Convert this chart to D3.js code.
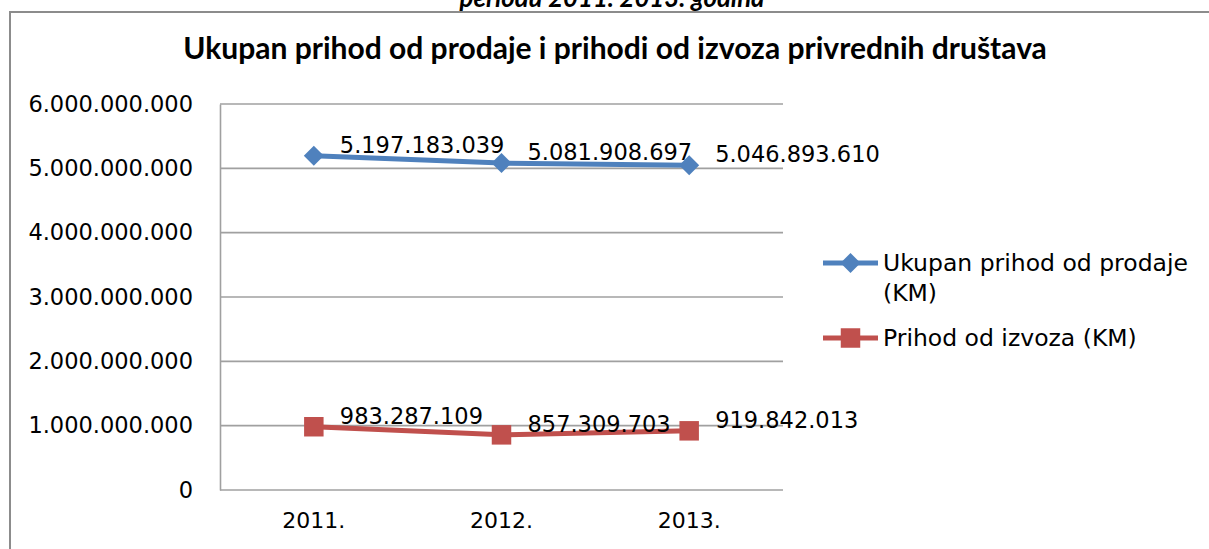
<!DOCTYPE html>
<html>
<head>
<meta charset="utf-8">
<script src="https://cdn.jsdelivr.net/npm/d3@7"></script>
<style>
html,body{margin:0;padding:0;background:#fff;}
svg{display:block;}
</style>
</head>
<body>
<svg id="chart" width="1209" height="549"></svg>
<script>
const categories = ["2011.", "2012.", "2013."];
const seriesNames = ["Ukupan prihod od prodaje (KM)", "Prihod od izvoza (KM)"];
const prodajaValues = [5197183039, 5081908697, 5046893610];
const izvozValues = [983287109, 857309703, 919842013];
const yTickValues = [0, 1e9, 2e9, 3e9, 4e9, 5e9, 6e9];
const chartTitle = "Ukupan prihod od prodaje i prihodi od izvoza privrednih društava";
const topCaption = "periodu 2011. 2013. godina";

const colors = ["#4F81BD", "#C0504D"];
const svg = d3.select("#chart");
const W = 1209, H = 549;
const plot = {left: 220, right: 783, top: 104, bottom: 490};
const font = "'DejaVu Sans', sans-serif";
const titleFont = "Lato, 'Open Sans', sans-serif";

const loc = d3.formatLocale({decimal: ",", thousands: ".", grouping: [3], currency: ["", ""]});
const fmt = loc.format(",.0f");

svg.append("rect").attr("width", W).attr("height", H).attr("fill", "#fff");

function fitText(sel, base, target) {
  const w = sel.node().getComputedTextLength();
  if (w > 0) sel.attr("font-size", base * target / w);
}

// clipped caption at very top (cut off in the reference as well)
const cap = svg.append("text")
  .attr("x", 612).attr("y", 7)
  .attr("text-anchor", "middle")
  .attr("font-family", titleFont)
  .attr("font-weight", "bold").attr("font-style", "italic")
  .attr("font-size", 22)
  .attr("fill", "#000")
  .text(topCaption);
fitText(cap, 22, 305);

// chart frame
svg.append("path")
  .attr("d", `M10,${H + 2} L10,12 L${W + 2},12`)
  .attr("fill", "none").attr("stroke", "#8c8c8c").attr("stroke-width", 2);

// title
const title = svg.append("text")
  .attr("x", 615).attr("y", 59)
  .attr("text-anchor", "middle")
  .attr("font-family", titleFont)
  .attr("font-weight", "bold")
  .attr("font-size", 26)
  .attr("fill", "#000")
  .text(chartTitle);
fitText(title, 26, 864);

const x = d3.scaleBand().domain(categories).range([plot.left, plot.right]);
const y = d3.scaleLinear().domain([0, 6e9]).range([plot.bottom, plot.top]);

// gridlines
svg.append("g").selectAll("line").data(yTickValues).join("line")
  .attr("x1", plot.left).attr("x2", plot.right)
  .attr("y1", d => y(d)).attr("y2", d => y(d))
  .attr("stroke", "#a0a0a0").attr("stroke-width", 1.6);

// y axis
const yAxis = svg.append("g")
  .attr("transform", `translate(${plot.left},0)`)
  .call(d3.axisLeft(y).tickValues(yTickValues).tickFormat(fmt).tickSize(0).tickPadding(27));
yAxis.select(".domain").attr("stroke", "#a0a0a0").attr("stroke-width", 1.6);
yAxis.selectAll("text").attr("font-family", font).attr("font-size", 22.5).attr("fill", "#000");

// x axis
const xAxis = svg.append("g")
  .attr("transform", `translate(0,${plot.bottom})`)
  .call(d3.axisBottom(x).tickSize(0).tickPadding(22));
xAxis.select(".domain").remove();
xAxis.selectAll("text").attr("font-family", font).attr("font-size", 22).attr("fill", "#000");

// symbols
const diamond = {
  draw(ctx, size) {
    const r = Math.sqrt(size) / 2;
    ctx.moveTo(0, -r); ctx.lineTo(r, 0); ctx.lineTo(0, r); ctx.lineTo(-r, 0); ctx.closePath();
  }
};
const symbols = [d3.symbol().type(diamond).size(400), d3.symbol().type(d3.symbolSquare).size(380)];

const series = [prodajaValues, izvozValues];
const line = d3.line().x((d, i) => x(categories[i]) + x.bandwidth() / 2).y(d => y(d));

series.forEach((vals, si) => {
  const g = svg.append("g");
  g.append("path").datum(vals).attr("d", line)
    .attr("fill", "none").attr("stroke", colors[si]).attr("stroke-width", 5)
    .attr("stroke-linejoin", "round");
  g.selectAll("path.m").data(vals).join("path").attr("class", "m")
    .attr("transform", (d, i) => `translate(${x(categories[i]) + x.bandwidth() / 2},${y(d)})`)
    .attr("d", symbols[si]()).attr("fill", colors[si]);
  g.selectAll("text").data(vals).join("text")
    .attr("x", (d, i) => x(categories[i]) + x.bandwidth() / 2 + 26)
    .attr("y", d => y(d) - 11)
    .attr("dy", "0.35em")
    .attr("font-family", font).attr("font-size", 22.5).attr("fill", "#000")
    .text(d => fmt(d));
});

// legend
const legend = [
  {lines: ["Ukupan prihod od prodaje", "(KM)"], y: 263},
  {lines: ["Prihod od izvoza (KM)"], y: 338}
];
legend.forEach((L, i) => {
  const g = svg.append("g");
  g.append("line").attr("x1", 823).attr("x2", 878).attr("y1", L.y).attr("y2", L.y)
    .attr("stroke", colors[i]).attr("stroke-width", 5);
  g.append("path").attr("transform", `translate(850.5,${L.y})`)
    .attr("d", symbols[i]()).attr("fill", colors[i]);
  const t = g.append("text").attr("font-family", font).attr("font-size", 23.5).attr("fill", "#000");
  L.lines.forEach((s, k) => {
    t.append("tspan").attr("x", 883).attr("y", L.y + k * 30).attr("dy", "0.35em").text(s);
  });
});
</script>
</body>
</html>
